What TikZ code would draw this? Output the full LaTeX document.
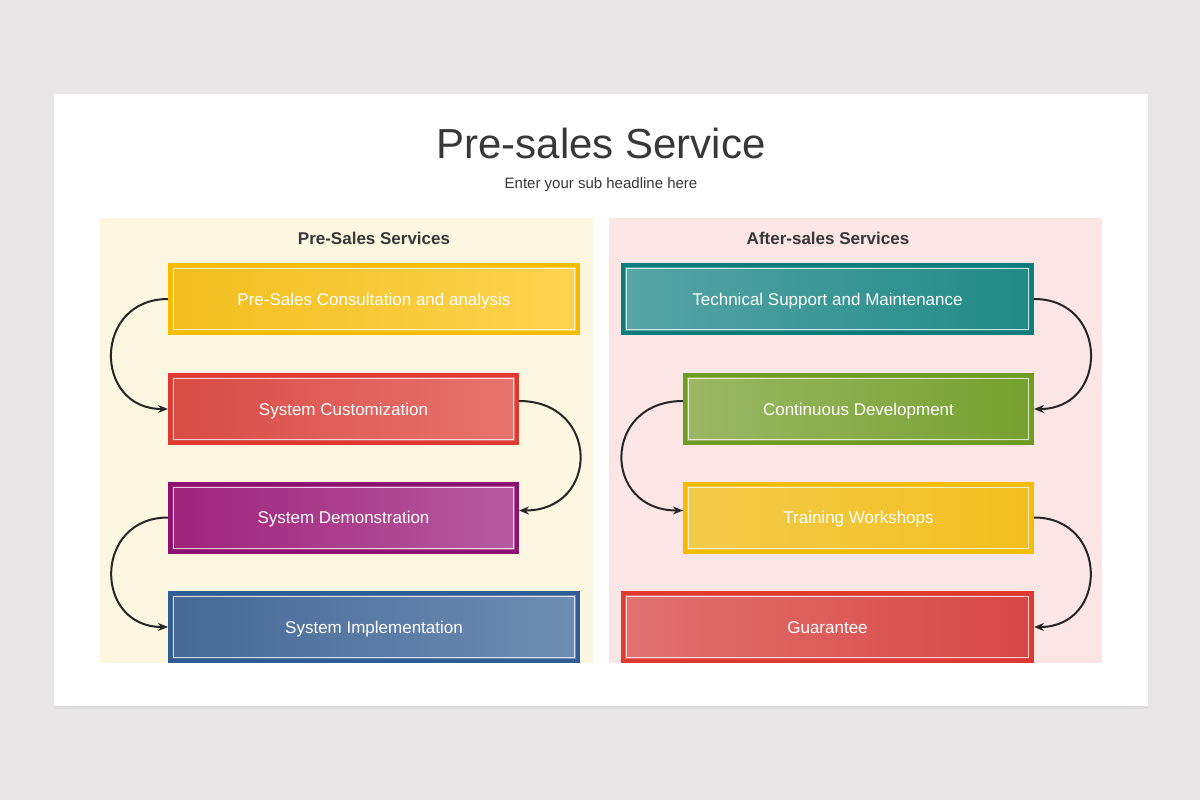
\documentclass[tikz,border=0pt]{standalone}
\usepackage{fontspec}
\setmainfont{Liberation Sans}
\usetikzlibrary{arrows.meta,shadows}
\definecolor{pagegray}{HTML}{E8E6E7}
\definecolor{creampanel}{HTML}{FDF6E1}
\definecolor{pinkpanel}{HTML}{FBE5E5}
\definecolor{inktext}{HTML}{383838}
\definecolor{yelB}{HTML}{F5BC00}
\definecolor{redB}{HTML}{E0392F}
\definecolor{purB}{HTML}{8C1170}
\definecolor{bluB}{HTML}{2F5C92}
\definecolor{teaB}{HTML}{0E7C7B}
\definecolor{grnB}{HTML}{6E9C1E}
\begin{document}
\begin{tikzpicture}[x=1pt,y=1pt]
\tikzstyle{every node}+=[inner sep=0pt]
\tikzstyle{stepbox}=[draw, line width=4pt, minimum height=68pt, text=white,
  font=\fontsize{17}{20}\selectfont, text height=12pt, text depth=0pt,
  path picture={\draw[white, opacity=0.75, line width=0.9pt]
    ([xshift=3.5pt,yshift=-3.5pt]path picture bounding box.north west) rectangle
    ([xshift=-3.5pt,yshift=3.5pt]path picture bounding box.south east);}]
\tikzstyle{paneltitle}=[text=inktext, font=\fontsize{17}{20}\selectfont\bfseries]
\tikzstyle{flow}=[draw=black!85, line width=2pt, -{Stealth[length=10pt,width=8pt]}, looseness=1.75]
\fill [pagegray] (0,0) rectangle (1200,-800);
\useasboundingbox (0,0) rectangle (1200,-800);
\fill [white, drop shadow={shadow xshift=0pt, shadow yshift=-3pt, opacity=0.1}] (54,-94) rectangle (1148,-706);
\fill [creampanel] (100,-218) rectangle (593,-663);
\fill [pinkpanel] (609,-218) rectangle (1102,-663);
\node (title) [text=inktext, font=\fontsize{42}{48}\selectfont] at (601,-143) {Pre-sales Service};
\node (sub) [text=inktext, font=\fontsize{15}{18}\selectfont] at (601,-185) {Enter your sub headline here};
\node (preT) [paneltitle] at (374,-238) {Pre-Sales Services};
\node (aftT) [paneltitle] at (828,-238) {After-sales Services};
\node (p1) [stepbox, minimum width=408pt, draw=yelB, left color={rgb,255:red,242;green,190;blue,30}, right color={rgb,255:red,253;green,212;blue,80}] at (374,-299) {Pre-Sales Consultation and analysis};
\node (p2) [stepbox, minimum width=347pt, draw=redB, left color={rgb,255:red,216;green,75;blue,69}, right color={rgb,255:red,232;green,116;blue,111}] at (343.5,-409) {System Customization};
\node (p3) [stepbox, minimum width=347pt, draw=purB, left color={rgb,255:red,158;green,35;blue,122}, right color={rgb,255:red,184;green,90;blue,160}] at (343.5,-517.5) {System Demonstration};
\node (p4) [stepbox, minimum width=408pt, draw=bluB, left color={rgb,255:red,69;green,104;blue,149}, right color={rgb,255:red,110;green,141;blue,181}] at (374,-627) {System Implementation};
\node (a1) [stepbox, minimum width=409pt, draw=teaB, left color={rgb,255:red,88;green,165;blue,165}, right color={rgb,255:red,31;green,138;blue,136}] at (827.5,-299) {Technical Support and Maintenance};
\node (a2) [stepbox, minimum width=347pt, draw=grnB, left color={rgb,255:red,155;green,184;blue,101}, right color={rgb,255:red,118;green,160;blue,46}] at (858.5,-409) {Continuous Development};
\node (a3) [stepbox, minimum width=347pt, draw=yelB, left color={rgb,255:red,243;green,203;blue,75}, right color={rgb,255:red,243;green,191;blue,30}] at (858.5,-517.5) {Training Workshops};
\node (a4) [stepbox, minimum width=409pt, draw=redB, left color={rgb,255:red,224;green,114;blue,112}, right color={rgb,255:red,216;green,71;blue,68}] at (827.5,-627) {Guarantee};
\draw [flow] (p1.west) to[out=180,in=180] (p2.west);
\draw [flow, looseness=1.9] ([yshift=8pt]p2.east) to[out=0,in=0] ([yshift=7pt]p3.east);
\draw [flow] (p3.west) to[out=180,in=180] (p4.west);
\draw [flow] (a1.east) to[out=0,in=0] (a2.east);
\draw [flow, looseness=1.9] ([yshift=8pt]a2.west) to[out=180,in=180] ([yshift=7pt]a3.west);
\draw [flow] (a3.east) to[out=0,in=0] (a4.east);
\end{tikzpicture}
\end{document}
